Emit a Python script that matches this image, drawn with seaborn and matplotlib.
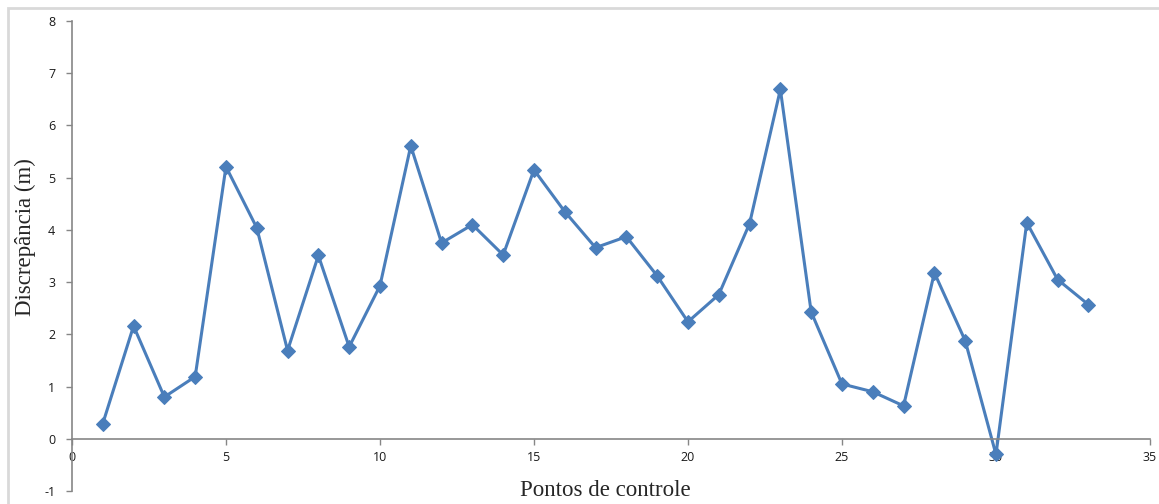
"""
Discrepância por ponto de controle
"""

import matplotlib
matplotlib.use("Agg")
import matplotlib.pyplot as plt
import matplotlib.patches as mpatches
import seaborn as sns
import pandas as pd

BLUE = "#4A7EBB"
AXIS = "#868686"

pontos = list(range(1, 34))
discrepancia = [0.29, 2.16, 0.80, 1.19, 5.21, 4.04, 1.69, 3.51, 1.76, 2.93,
                5.61, 3.75, 4.10, 3.52, 5.15, 4.35, 3.66, 3.87, 3.12, 2.24,
                2.76, 4.12, 6.69, 2.43, 1.05, 0.90, 0.63, 3.18, 1.88, -0.30,
                4.14, 3.05, 2.57]
xticks = [0, 5, 10, 15, 20, 25, 30, 35]
yticks = [-1, 0, 1, 2, 3, 4, 5, 6, 7, 8]

df = pd.DataFrame({"ponto": pontos, "disc": discrepancia})

sns.set_style("white")
plt.rcParams["font.family"] = ["Open Sans", "DejaVu Sans"]
plt.rcParams["axes.unicode_minus"] = False

fig = plt.figure(figsize=(11.59, 5.04), dpi=100)
ax = fig.add_axes([0.0621, 0.0258, 0.9301, 0.9325])

sns.lineplot(data=df, x="ponto", y="disc", ax=ax, color=BLUE, linewidth=2.2,
             marker="D", markersize=7, markeredgecolor=BLUE)

ax.set_xlim(0, 35)
ax.set_ylim(-1, 8)
ax.set_xticks(xticks)
ax.set_yticks(yticks)
ax.set_xlabel("")
ax.set_ylabel("")

for s in ["top", "right"]:
    ax.spines[s].set_visible(False)
ax.spines["bottom"].set_position(("data", 0))
for s in ["left", "bottom"]:
    ax.spines[s].set_color(AXIS)
    ax.spines[s].set_linewidth(1.2)

ax.tick_params(axis="both", direction="out", length=4, width=1, color=AXIS,
               labelsize=9, labelcolor="#1a1a1a")
ax.tick_params(axis="x", pad=5, bottom=True)
ax.tick_params(axis="y", pad=8, left=True)

fig.text(25 / 1159, 1 - 237 / 504, "Discrepância (m)", rotation=90,
         ha="center", va="center", fontsize=16.5, family="Liberation Serif")
fig.text(605 / 1159, 1 - 490 / 504, "Pontos de controle",
         ha="center", va="center", fontsize=16.5, family="Liberation Serif")

# light frame around the chart area
fig.patches.append(mpatches.Rectangle((8 / 1159, -0.05), 1.2, 1 - 8 / 504 + 0.05,
                                      transform=fig.transFigure, fill=False,
                                      edgecolor="#d9d9d9", linewidth=2))

plt.savefig("out.png", dpi=100)
plt.close()
